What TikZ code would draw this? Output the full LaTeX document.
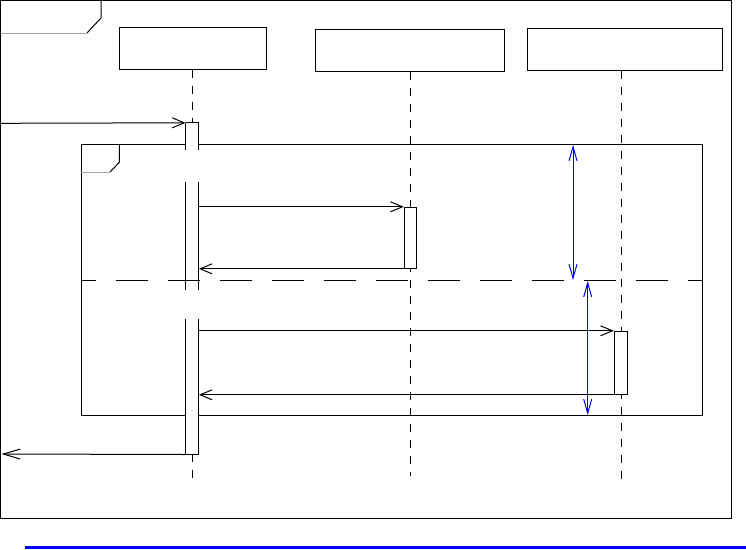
\documentclass[tikz,border=0pt]{standalone}
\usetikzlibrary{arrows.meta}
\begin{document}
\begin{tikzpicture}[x=1pt,y=-1pt,line width=1pt,
  box/.style={draw,rectangle,inner sep=0pt,fill=white},
  actfill/.style={draw=none,rectangle,inner sep=0pt,fill=white},
  life/.style={dash pattern=on 8pt off 8pt},
  msg/.style={-{Straight Barb[length=12pt,width=10pt]}},
  msgbig/.style={-{Straight Barb[length=17pt,width=10pt]}},
  dim/.style={blue,{Straight Barb[length=14pt,width=8pt]}-{Straight Barb[length=14pt,width=8pt]}}]
\useasboundingbox (0,0) rectangle (746,549);
% outer frame
\draw (0.5,0.5) rectangle (731.5,518.5);
\draw (101,0.5) -- (101,18) -- (87,33);
\draw[gray!70] (87,33) -- (0.5,33);
% lifeline heads
\node[box,minimum width=147pt,minimum height=42pt] (L1) at (192.5,48.5) {};
\node[box,minimum width=188.7pt,minimum height=41.7pt] (L2) at (410.3,50.2) {};
\node[box,minimum width=195.4pt,minimum height=42pt] (L3) at (625,49.3) {};
% lifelines
\coordinate (e1) at (192.3,481);
\coordinate (e2) at (410,476);
\coordinate (e3) at (621.3,482);
\draw[life] (L1.south -| e1) -- (e1);
\draw[life] (L2.south -| e2) -- (e2);
\draw[life] (L3.south -| e3) -- (e3);
% combined fragment
\draw (81.3,144.3) rectangle (702.3,415.3);
\draw (119.3,144.3) -- (119.3,162.3) -- (110,172);
\draw[gray!70] (110,172) -- (81.3,172);
% activation 1 (fill)
\node[actfill,minimum width=12.3pt,minimum height=330.7pt] (A1) at (192.2,288.65) {};
% operand separator
\draw[dash pattern=on 32pt off 20pt,dash phase=17pt] (81.3,280.3) -- (702.3,280.3);
% activation 1 outline in segments
\draw (A1.north west) -- (A1.north east);
\draw (A1.south west) -- (A1.south east);
\draw (A1.north west) -- ++(0,26.7) (A1.north east) -- ++(0,26.7);
\draw ([yshift=-59pt]A1.north west) -- ++(0,107.7) ([yshift=-59pt]A1.north east) -- ++(0,107.7);
\draw ([yshift=-196pt]A1.north west) -- (A1.south west) ([yshift=-196pt]A1.north east) -- (A1.south east);
% activations 2 and 3
\node[box,minimum width=12pt,minimum height=61pt] (A2) at (410.3,237.8) {};
\node[box,minimum width=13pt,minimum height=63pt] (A3) at (620.8,362.8) {};
% messages
\coordinate (in) at (0.5,123.3);
\coordinate (out) at (1.5,454);
\draw[msg] (in) -- (A1.north west);
\draw[msg] (A1.east |- A2.north) -- (A2.north west);
\draw[msg] (A2.south west) -- (A1.east |- A2.south);
\draw[msg] (A1.east |- A3.north) -- (A3.north west);
\draw[msg] (A3.south west) -- (A1.east |- A3.south);
\draw[msgbig] (A1.south west) -- (out);
% dimension arrows
\coordinate (d1a) at (573,145);
\coordinate (d1b) at (573,280);
\coordinate (d2a) at (587.7,281);
\coordinate (d2b) at (587.7,415);
\draw[dim] (d1a) -- (d1b);
\draw[dim] (d2a) -- (d2b);
% bottom bar
\fill[blue] (25,546) rectangle (746,549);
\end{tikzpicture}
\end{document}
